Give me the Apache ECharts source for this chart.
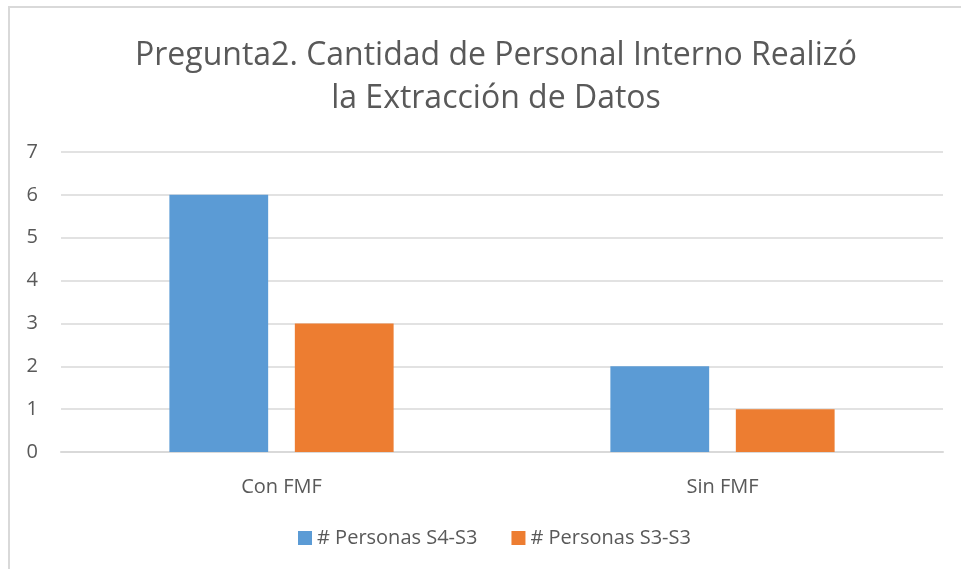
<!DOCTYPE html>
<html>
<head>
<meta charset="utf-8">
<script src="https://cdn.jsdelivr.net/npm/echarts@6/dist/echarts.min.js"></script>
<style>
  html, body { margin: 0; padding: 0; background: #fff; }
  #frame { position: absolute; left: 8px; top: 6px; width: 960px; height: 570px; border: 2px solid #d9d9d9; box-sizing: border-box; }
  #chart { position: absolute; left: 0; top: 0; width: 961px; height: 569px; }
</style>
</head>
<body>
<div id="frame"></div>
<div id="chart"></div>
<script>
const categories = ["Con FMF", "Sin FMF"];
const seriesNames = ["# Personas S4-S3", "# Personas S3-S3"];
const personasS4S3 = [6, 2];
const personasS3S3 = [3, 1];
const colors = ["#5b9bd5", "#ed7d31"];

const font = "'Open Sans', sans-serif";
const chart = echarts.init(document.getElementById("chart"), null, { renderer: "canvas" });

chart.setOption({
  animation: false,
  title: {
    text: "Pregunta2. Cantidad de Personal Interno Realizó\nla Extracción de Datos",
    left: 491,
    textAlign: "center",
    top: 29,
    textStyle: { fontFamily: font, fontSize: 32, fontWeight: "normal", color: "#595959", lineHeight: 43 }
  },
  legend: {
    data: seriesNames,
    bottom: 16,
    left: 293,
    itemWidth: 14,
    itemHeight: 14,
    itemGap: 34,
    icon: "rect",
    textStyle: { fontFamily: font, fontSize: 20, color: "#595959" }
  },
  grid: { left: 61, right: 18, top: 152, bottom: 117, containLabel: false },
  xAxis: {
    type: "category",
    data: categories,
    axisLine: { lineStyle: { color: "#d9d9d9", width: 2 } },
    axisTick: { show: false },
    axisLabel: { fontFamily: font, fontSize: 20, color: "#595959", margin: 25 }
  },
  yAxis: {
    type: "value",
    min: 0,
    max: 7,
    interval: 1,
    axisLine: { show: false },
    axisTick: { show: false },
    axisLabel: { fontFamily: font, fontSize: 20, color: "#595959", margin: 23 },
    splitLine: { lineStyle: { color: "#d9d9d9", width: 1.5 } }
  },
  series: [
    { name: seriesNames[0], type: "bar", data: personasS4S3, barWidth: "22.4%", barGap: "27%", itemStyle: { color: colors[0] } },
    { name: seriesNames[1], type: "bar", data: personasS3S3, barWidth: "22.4%", itemStyle: { color: colors[1] } }
  ]
});
</script>
</body>
</html>
